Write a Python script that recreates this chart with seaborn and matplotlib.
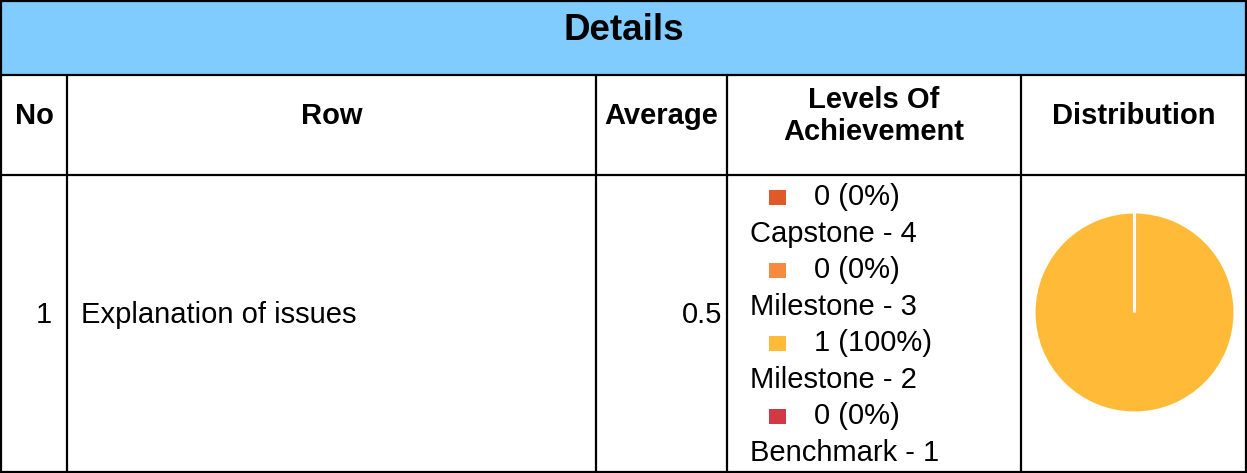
import matplotlib
matplotlib.use("Agg")
import matplotlib.pyplot as plt
import seaborn as sns
from matplotlib.patches import Rectangle

# ---- data ----
title = "Details"
columns = ["No", "Row", "Average", "Levels Of\nAchievement", "Distribution"]
row_no = ["1"]
row_names = ["Explanation of issues"]
averages = [0.5]
levels = ["Capstone - 4", "Milestone - 3", "Milestone - 2", "Benchmark - 1"]
counts = [0, 0, 1, 0]
level_colors = ["#DF5A28", "#F68A3F", "#FFBB38", "#D13A45"]

sns.set_theme(style="white")
plt.rcParams['font.family'] = ['Liberation Sans', 'DejaVu Sans']

W, H = 1247, 473
fig = plt.figure(figsize=(W / 100, H / 100), dpi=100)
ax = fig.add_axes([0, 0, 1, 1])
ax.set_xlim(0, W)
ax.set_ylim(H, 0)
ax.axis("off")

lw = 1.6
# header band
ax.add_patch(Rectangle((1, 1), W - 2, 74, facecolor="#80CCFF", edgecolor="none"))
# outer border
ax.add_patch(Rectangle((1, 1), W - 2.5, H - 2, facecolor="none", edgecolor="black", lw=lw))
# horizontal lines
for y in [75, 175]:
    ax.plot([1, W - 1], [y, y], color="black", lw=lw)
# vertical lines
col_x = [1, 67, 596, 727, 1021, W - 1.5]
for x in col_x[1:-1]:
    ax.plot([x, x], [75, H - 1], color="black", lw=lw)

ax.text(W / 2, 31, title, ha="center", va="center", fontsize=26.5, fontweight="bold", color="black")

centers = [(col_x[i] + col_x[i + 1]) / 2 for i in range(5)]
for c, lab in zip(centers, columns):
    ax.text(c, 116, lab, ha="center", va="center", fontsize=21, fontweight="bold",
            color="black")

# data row
ry = 315
fs = 21
ax.text(52, ry, row_no[0], ha="right", va="center", fontsize=fs, color="black")
ax.text(81, ry, row_names[0], ha="left", va="center", fontsize=fs, color="black")
ax.text(722, ry, f"{averages[0]}", ha="right", va="center", fontsize=fs, color="black")

# legend
total = sum(counts)
y0 = 197
step = 36.5
for i, (lab, cnt, col) in enumerate(zip(levels, counts, level_colors)):
    yv = y0 + i * 2 * step
    yl = yv + step
    ax.add_patch(Rectangle((769, yv - 7.5), 17, 15, facecolor=col, edgecolor="none"))
    ax.text(814, yv, f"{cnt} ({cnt * 100 // total}%)", ha="left", va="center", fontsize=fs, color="black")
    ax.text(750, yl, lab, ha="left", va="center", fontsize=fs, color="black")

# pie
pax = fig.add_axes([1034 / W, (H - 413) / H, 201 / W, 201 / H])
pax.pie(counts, colors=level_colors, startangle=90, counterclock=False,
        wedgeprops=dict(edgecolor="white", linewidth=2.2))
pax.set_xlim(-1.0, 1.0)
pax.set_ylim(-1.0, 1.0)
pax.set_aspect("equal")
pax.axis("off")

fig.savefig("out.png", dpi=100)
